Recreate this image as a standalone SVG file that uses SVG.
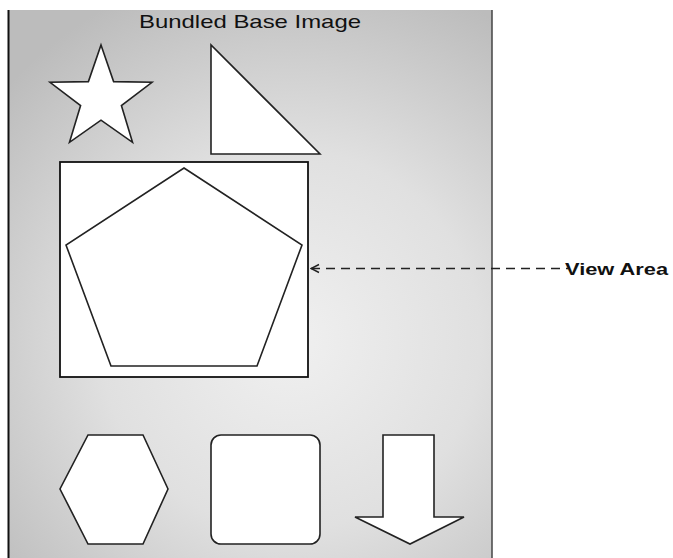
<svg xmlns="http://www.w3.org/2000/svg" width="673" height="558" viewBox="0 0 673 558">
<defs>
<radialGradient id="bg" cx="290" cy="340" r="380" gradientUnits="userSpaceOnUse">
<stop offset="0" stop-color="#f0f0f0"/>
<stop offset="0.5" stop-color="#e0e0e0"/>
<stop offset="1" stop-color="#bcbcbc"/>
</radialGradient>
<marker id="open" markerWidth="12" markerHeight="12" refX="1" refY="6" orient="auto" markerUnits="userSpaceOnUse">
<path d="M9,2 L1,6 L9,10" fill="none" stroke="#222" stroke-width="1.4"/>
</marker>
</defs>
<style>
.shape{fill:#fff;stroke:#222;stroke-width:1.6;stroke-linejoin:miter}
.title{font-family:"Liberation Sans",Arial,sans-serif;font-size:19px;fill:#111}
.label{font-family:"Liberation Sans",Arial,sans-serif;font-size:17px;font-weight:bold;fill:#111}
</style>
<rect width="673" height="558" fill="#fff"/>
<g id="panel">
<rect x="8" y="10" width="484" height="548" fill="url(#bg)"/>
<line x1="8.5" y1="10" x2="8.5" y2="558" stroke="#111" stroke-width="2"/>
<line x1="492" y1="10" x2="492" y2="558" stroke="#444" stroke-width="1.5"/>
<text class="title" x="250" y="28" text-anchor="middle" textLength="222" lengthAdjust="spacingAndGlyphs">Bundled Base Image</text>
</g>
<g id="star">
<polygon class="shape" points="101,45 113.6,81.6 152,82.3 121.4,105.5 132.5,142.3 101,120.2 69.5,142.3 80.6,105.5 50,82.3 88.4,81.6"/>
</g>
<g id="triangle">
<polygon class="shape" points="211,45 211,154 320,154"/>
</g>
<g id="view-area">
<rect x="60" y="162" width="248" height="215" fill="#fff" stroke="#111" stroke-width="1.8"/>
</g>
<g id="pentagon">
<polygon class="shape" points="184,168 302,245 257,366 111,366 66,245"/>
</g>
<g id="hexagon">
<polygon class="shape" points="88,435 143,435 168,489 143,544 88,544 60,489"/>
</g>
<g id="rounded-rect">
<rect class="shape" x="211" y="435" width="109" height="109" rx="10"/>
</g>
<g id="down-arrow">
<polygon class="shape" points="383,435 434,435 434,517 464,517 410,544 355,517 383,517"/>
</g>
<g id="connectors">
<line x1="311" y1="268.5" x2="568" y2="268.5" stroke="#222" stroke-width="1.6" stroke-dasharray="9,6" marker-start="url(#open)"/>
</g>
<g id="label">
<text class="label" x="565" y="275" textLength="103" lengthAdjust="spacingAndGlyphs">View Area</text>
</g>
</svg>
